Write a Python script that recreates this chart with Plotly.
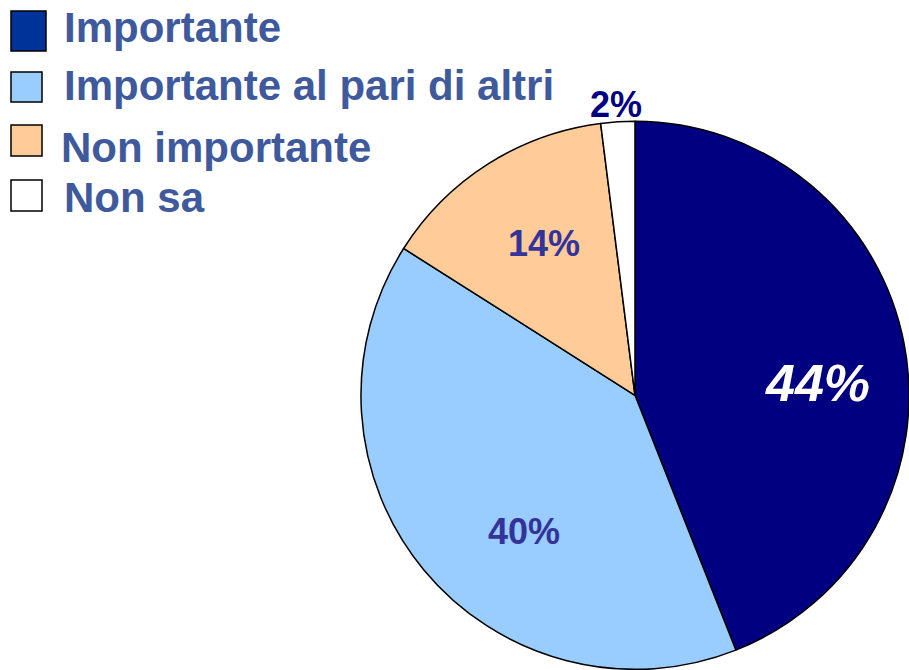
import plotly.graph_objects as go

categories = ["Importante", "Importante al pari di altri", "Non importante", "Non sa"]
values = [44, 40, 14, 2]
value_labels = ["44%", "40%", "14%", "2%"]

pie_colors = ["#000080", "#99CCFF", "#FFCC99", "#FFFFFF"]
legend_colors = ["#003399", "#99CCFF", "#FFCC99", "#FFFFFF"]
W, H = 909, 670

fig = go.Figure()
fig.add_trace(go.Pie(
    labels=categories, values=values, sort=False, direction="clockwise",
    rotation=0, textinfo="none", showlegend=False,
    marker=dict(colors=pie_colors, line=dict(color="#000000", width=1.5)),
    domain=dict(x=[0.3971, 1.0], y=[0.0, 0.82]),
))

# slice value labels
label_pos = [(817, 383), (524, 531), (544, 243), (616, 104)]
label_fonts = [
    dict(family="Liberation Sans, Arial", size=52, color="#FFFFFF", weight="bold", style="italic"),
    dict(family="Liberation Sans, Arial", size=36, color="#333399", weight="bold"),
    dict(family="Liberation Sans, Arial", size=36, color="#333399", weight="bold"),
    dict(family="Liberation Sans, Arial", size=36, color="#000080", weight="bold"),
]
for txt, (px, py), f in zip(value_labels, label_pos, label_fonts):
    fig.add_annotation(text=txt, x=px / W, y=1 - py / H, xref="paper", yref="paper",
                       xanchor="center", yanchor="middle", showarrow=False, font=f)

# custom legend
sq_boxes = [(11, 11, 46, 51), (11, 72, 42, 102), (11, 125, 42, 156), (11, 180, 42, 211)]
text_rows = [(62, 27), (62, 85), (59, 147), (62, 197)]
for cat, col, (x0, y0, x1, y1), (tx, ty) in zip(categories, legend_colors, sq_boxes, text_rows):
    fig.add_shape(type="rect", xref="paper", yref="paper",
                  x0=x0 / W, x1=x1 / W, y0=1 - y1 / H, y1=1 - y0 / H,
                  fillcolor=col, line=dict(color="#000000", width=1.5))
    fig.add_annotation(text=cat, x=tx / W, y=1 - ty / H, xref="paper", yref="paper",
                       xanchor="left", yanchor="middle", showarrow=False,
                       font=dict(family="Liberation Sans, Arial", size=42, color="#3F5A9C", weight="bold"))

fig.update_layout(
    width=W, height=H, margin=dict(l=0, r=0, t=0, b=0),
    paper_bgcolor="#FFFFFF", plot_bgcolor="#FFFFFF",
)
fig.write_html("out.html", config={"displayModeBar": False},
               post_script="document.body.style.margin='0';document.body.style.overflow='hidden';")
